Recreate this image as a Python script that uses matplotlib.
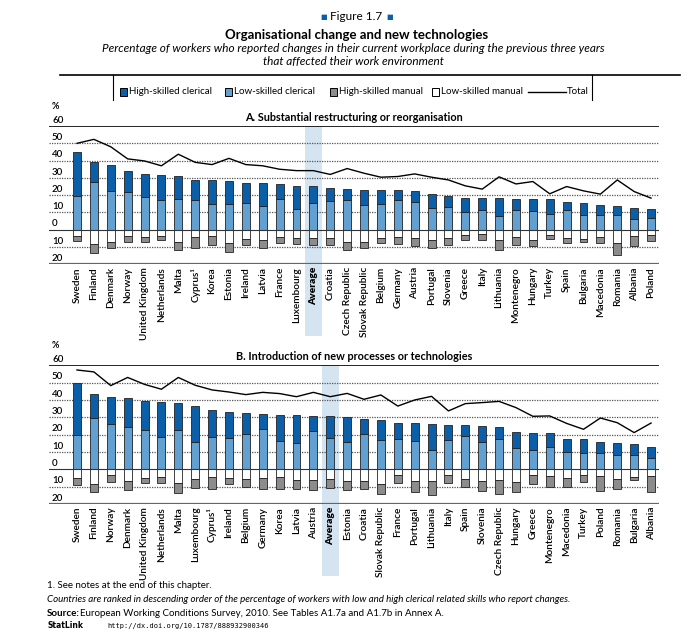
import matplotlib
matplotlib.use('Agg')
import matplotlib.pyplot as plt
import numpy as np
from matplotlib.patches import Rectangle
from matplotlib.lines import Line2D
import matplotlib.transforms as mtransforms

plt.rcParams['font.family'] = ['Lato', 'DejaVu Sans']

# Panel A: substantial restructuring or reorganisation
countries_a = ['Sweden', 'Finland', 'Denmark', 'Norway', 'United Kingdom', 'Netherlands',
               'Malta', 'Cyprus¹', 'Korea', 'Estonia', 'Ireland', 'Latvia', 'France',
               'Luxembourg', 'Average', 'Croatia', 'Czech Republic', 'Slovak Republic',
               'Belgium', 'Germany', 'Austria', 'Portugal', 'Slovenia', 'Greece', 'Italy',
               'Lithuania', 'Montenegro', 'Hungary', 'Turkey', 'Spain', 'Bulgaria',
               'Macedonia', 'Romania', 'Albania', 'Poland']
low_cler_a = [19.6, 27.5, 22.7, 22.0, 18.8, 17.0, 17.9, 17.0, 14.8, 14.8, 15.4, 13.5, 17.9,
              12.0, 15.2, 16.7, 17.0, 14.2, 14.8, 17.3, 16.3, 12.5, 13.0, 10.0, 11.3,
              8.0, 11.3, 10.6, 9.2, 11.7, 8.3, 8.3, 8.3, 6.5, 6.9]
clerical_a = [44.8, 39.0, 37.5, 34.0, 32.3, 31.5, 31.3, 29.0, 28.5, 28.3, 27.3, 27.0, 26.5,
              25.4, 25.4, 24.0, 23.3, 23.0, 22.9, 22.9, 22.5, 20.4, 19.6, 18.5, 18.3,
              18.3, 17.9, 17.9, 17.7, 16.3, 15.4, 14.2, 13.8, 12.3, 11.9]
low_man_a = [3.5, 8.0, 7.0, 3.5, 4.2, 3.5, 7.0, 4.0, 3.5, 7.7, 5.4, 5.8, 4.2,
             4.6, 4.8, 5.0, 7.0, 7.0, 5.0, 4.4, 5.0, 6.0, 4.6, 3.0, 2.5,
             6.2, 4.2, 5.8, 3.0, 5.0, 5.2, 4.2, 7.9, 3.7, 2.9]
manual_a = [6.5, 13.5, 10.6, 7.0, 7.0, 5.8, 11.7, 10.4, 9.0, 12.7, 8.8, 10.4, 7.9,
            8.0, 8.7, 8.7, 12.0, 10.4, 7.7, 8.3, 9.2, 10.6, 9.0, 6.2, 5.8,
            11.7, 8.7, 9.6, 5.4, 7.7, 7.3, 7.7, 14.6, 9.6, 6.3]
total_a = [50.0, 52.3, 48.0, 41.0, 39.8, 37.0, 43.7, 39.0, 37.7, 41.3, 37.7, 37.0, 35.0,
           34.2, 34.2, 32.0, 35.4, 32.7, 30.4, 30.8, 32.3, 30.4, 28.8, 25.4, 23.5,
           30.6, 26.5, 27.9, 20.8, 25.0, 22.5, 20.6, 28.8, 22.1, 18.3]

# Panel B: introduction of new processes or technologies
countries_b = ['Sweden', 'Finland', 'Norway', 'Denmark', 'United Kingdom', 'Netherlands',
               'Malta', 'Luxembourg', 'Cyprus¹', 'Ireland', 'Belgium', 'Germany', 'Korea',
               'Latvia', 'Austria', 'Average', 'Estonia', 'Croatia', 'Slovak Republic',
               'France', 'Portugal', 'Lithuania', 'Italy', 'Spain', 'Slovenia',
               'Czech Republic', 'Hungary', 'Greece', 'Montenegro', 'Macedonia', 'Turkey',
               'Poland', 'Romania', 'Bulgaria', 'Albania']
low_cler_b = [20.0, 29.6, 26.3, 24.2, 22.7, 18.7, 22.9, 16.0, 18.8, 18.3, 20.4, 23.5, 16.2,
              15.2, 22.1, 18.1, 16.0, 20.2, 16.9, 17.5, 16.3, 11.3, 16.9, 19.0, 15.8,
              17.5, 12.1, 11.0, 13.1, 9.8, 9.2, 9.2, 8.5, 8.1, 6.5]
clerical_b = [49.6, 43.5, 41.5, 41.2, 39.6, 38.7, 38.0, 36.7, 34.2, 33.3, 32.5, 31.9, 31.5,
              31.2, 31.0, 30.8, 30.4, 29.2, 28.3, 26.9, 26.7, 26.0, 25.8, 25.8, 25.2,
              24.4, 21.5, 21.0, 20.8, 17.5, 17.3, 16.0, 15.0, 14.8, 13.1]
low_man_b = [5.2, 8.5, 3.5, 6.9, 5.0, 4.2, 7.7, 5.8, 4.6, 5.0, 5.8, 5.0, 4.6,
             6.2, 6.0, 5.4, 6.7, 6.7, 8.7, 3.5, 6.9, 6.9, 3.1, 5.4, 6.5,
             6.3, 7.1, 3.5, 4.0, 5.2, 3.5, 3.8, 5.8, 4.2, 3.8]
manual_b = [8.8, 12.9, 7.1, 11.9, 8.1, 7.7, 13.7, 10.8, 11.3, 8.7, 10.0, 11.2, 11.5,
            11.2, 12.1, 10.6, 12.1, 11.2, 14.4, 8.1, 13.1, 14.8, 8.1, 10.4, 12.5,
            14.2, 13.1, 8.7, 10.2, 10.2, 7.1, 12.3, 11.2, 6.3, 12.9]
total_b = [57.3, 56.2, 48.3, 53.0, 49.0, 46.2, 53.0, 48.5, 45.8, 44.6, 43.1, 44.4, 43.7,
           41.9, 44.4, 41.9, 43.8, 40.4, 42.9, 36.5, 40.0, 42.1, 33.7, 37.9, 38.5,
           39.2, 35.6, 30.6, 30.8, 26.5, 23.1, 29.6, 26.9, 21.2, 26.7]

yticks = [60, 50, 40, 30, 20, 10, 0, -10, -20]
ytick_labels = ['60', '50', '40', '30', '20', '10', '0', '10', '20']

DARK = '#0a5fa8'
LIGHT = '#62a0d2'
GREY = '#8c8c8c'
BAND = '#d5e4f1'


def draw_panel(fig, ax, title, countries, low_cler, clerical, low_man, manual, total):
    x = np.arange(len(countries))
    low_cler = np.array(low_cler)
    clerical = np.array(clerical)
    low_man = np.array(low_man)
    manual = np.array(manual)
    w = 0.47

    ax.set_xlim(-1.66, len(countries) - 1 + 0.47)
    ax.set_ylim(-20, 60)
    for s in ax.spines.values():
        s.set_visible(False)
    ax.set_yticks([])
    ax.set_xticks(x)
    ax.set_xticklabels(countries, rotation=90, fontsize=7.3, ha='center', va='top',
                       fontweight='semibold')
    ax.tick_params(axis='x', length=0, pad=2)
    for lab in ax.get_xticklabels():
        if lab.get_text() == 'Average':
            lab.set_fontweight('heavy')

    # average highlight band, running down through the labels
    avg = countries.index('Average')
    trans = mtransforms.blended_transform_factory(ax.transData, ax.transAxes)
    ax.add_patch(Rectangle((avg - 0.49, -0.52), 0.98, 1.52, transform=trans,
                           facecolor=BAND, edgecolor='none', clip_on=False, zorder=0))

    # grid
    for v in [50, 40, 30, 20, 10, -10]:
        ax.axhline(v, color='#555555', lw=0.9, ls=(0, (1, 1)), zorder=1)
    ax.axhline(60, color='black', lw=1.2, zorder=1)
    ax.axhline(0, color='#333333', lw=0.8, zorder=3)
    ax.axhline(-20, color='#666666', lw=1.6, zorder=1)

    ytrans = mtransforms.blended_transform_factory(ax.transAxes, ax.transData)
    lab_trans = mtransforms.offset_copy(ytrans, fig=fig, x=0, y=1.0, units='points')
    for v, lab in zip(yticks, ytick_labels):
        ax.text(0.005, v, lab, transform=lab_trans, ha='left', va='bottom', fontsize=7,
                fontweight='semibold')
    pct_trans = mtransforms.offset_copy(ytrans, fig=fig, x=0, y=11, units='points')
    ax.text(0.005, 60, '%', transform=pct_trans, ha='left', va='bottom', fontsize=6.5,
            fontweight='bold')

    ec = '#222222'
    ax.bar(x, low_cler, w, color=LIGHT, edgecolor=ec, lw=0.6, zorder=2)
    ax.bar(x, clerical - low_cler, w, bottom=low_cler, color=DARK, edgecolor=ec, lw=0.6, zorder=2)
    ax.bar(x, -low_man, w, color='white', edgecolor=ec, lw=0.6, zorder=2)
    ax.bar(x, -(manual - low_man), w, bottom=-low_man, color=GREY, edgecolor=ec, lw=0.6, zorder=2)
    ax.plot(x, total, color='black', lw=1.0, zorder=4)

    ax.text(0.5, 1.025, title, transform=ax.transAxes, ha='center', va='bottom',
            fontsize=7.8, fontweight='bold')


fig = plt.figure(figsize=(6.85, 6.34), dpi=100)
H = 634.0
W = 685.0

fig.text(0.52, 1 - 17 / H, 'Figure 1.7', ha='center', va='center', fontsize=8.5)
fig.text(0.52 - 33 / W, 1 - 17 / H, '■', ha='center', va='center', fontsize=5, color=DARK)
fig.text(0.52 + 33 / W, 1 - 17 / H, '■', ha='center', va='center', fontsize=5, color=DARK)
fig.text(0.521, 1 - 35 / H, 'Organisational change and new technologies', ha='center',
         va='center', fontsize=9.5, fontweight='bold')
fig.text(0.516, 1 - 49 / H, 'Percentage of workers who reported changes in their current '
         'workplace during the previous three years', ha='center', va='center',
         fontsize=8.5, style='italic')
fig.text(0.516, 1 - 62 / H, 'that affected their work environment', ha='center',
         va='center', fontsize=8.5, style='italic')

# legend box
fig.add_artist(Line2D([60 / W, 680 / W], [1 - 75 / H, 1 - 75 / H], color='black', lw=1.2))
for xv in [113, 592]:
    fig.add_artist(Line2D([xv / W, xv / W], [1 - 75 / H, 1 - 100 / H], color='black', lw=0.8))
leg_y = 1 - 92 / H
items = [(120, DARK, 'High-skilled clerical'), (225, LIGHT, 'Low-skilled clerical'),
         (330, GREY, 'High-skilled manual'), (432, 'white', 'Low-skilled manual')]
for xp, col, lab in items:
    fig.add_artist(Rectangle((xp / W, leg_y - 3.5 / H), 7 / W, 7 / H, facecolor=col,
                             edgecolor='black', lw=0.7, transform=fig.transFigure))
    fig.text((xp + 9) / W, leg_y, lab, ha='left', va='center', fontsize=7)
fig.add_artist(Line2D([528 / W, 566 / W], [leg_y, leg_y], color='black', lw=1.0))
fig.text(567 / W, leg_y, 'Total', ha='left', va='center', fontsize=7)

ax_a = fig.add_axes([0.0715, 0.5831, 0.8905, 0.2181])
draw_panel(fig, ax_a, 'A. Substantial restructuring or reorganisation', countries_a,
           low_cler_a, clerical_a, low_man_a, manual_a, total_a)
ax_b = fig.add_axes([0.0715, 0.2050, 0.8905, 0.2188])
draw_panel(fig, ax_b, 'B. Introduction of new processes or technologies', countries_b,
           low_cler_b, clerical_b, low_man_b, manual_b, total_b)

fx = 47 / W
fig.text(fx, 1 - 586 / H, '1. See notes at the end of this chapter.', fontsize=7, va='center')
fig.text(fx, 1 - 600 / H, 'Countries are ranked in descending order of the percentage of workers '
         'with low and high clerical related skills who report changes.', fontsize=7,
         style='italic', va='center')
fig.text(fx, 1 - 613 / H, 'Source:', fontsize=7, fontweight='bold', va='center')
fig.text(fx + 33 / W, 1 - 613 / H, 'European Working Conditions Survey, 2010. See Tables A1.7a '
         'and A1.7b in Annex A.', fontsize=7, va='center')
fig.text(fx, 1 - 626 / H, 'StatLink', fontsize=5.5, fontweight='bold', va='center',
         family='DejaVu Sans')
fig.text(fx + 60 / W, 1 - 626 / H, 'http://dx.doi.org/10.1787/888932900346', fontsize=5,
         va='center', family='DejaVu Sans Mono')

fig.savefig('out.png', dpi=100)
